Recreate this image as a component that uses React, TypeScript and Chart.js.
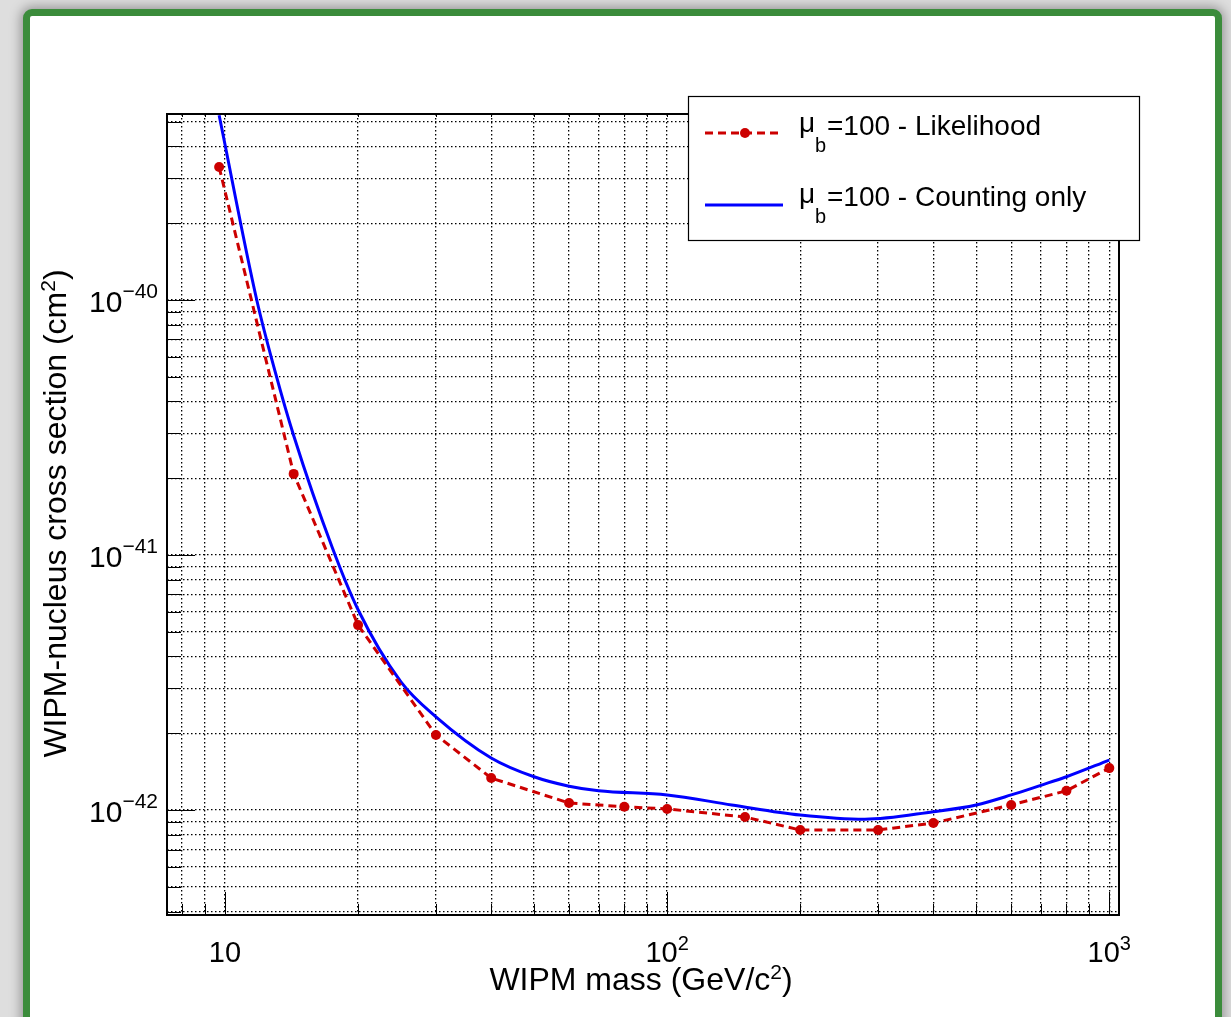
import React, { useEffect, useRef } from 'react';
import { Chart, registerables } from 'chart.js';

Chart.register(...registerables);

// ---- data ----
const likelihoodMass = [9.7, 14.3, 20, 30, 40, 60, 80, 100, 150, 200, 300, 400, 600, 800, 1000];
const likelihoodSigma = [
  3.32e-40, 2.08e-41, 5.31e-42, 1.97e-42, 1.335e-42, 1.065e-42, 1.03e-42, 1.01e-42,
  9.39e-43, 8.35e-43, 8.35e-43, 8.89e-43, 1.047e-42, 1.19e-42, 1.46e-42,
];
const countingMass = [9.7, 11.8, 13, 14.3, 17.5, 20, 25, 30, 40, 50, 60, 70, 100, 140, 200, 280, 400, 500, 600, 700, 800, 1000];
const countingSigma = [
  5.3e-40, 1.0e-40, 5.2e-41, 2.94e-41, 1.065e-41, 6.1e-42, 3.18e-42, 2.32e-42, 1.6e-42,
  1.35e-42, 1.24e-42, 1.19e-42, 1.146e-42, 1.047e-42, 9.56e-43, 9.2e-43, 9.85e-43,
  1.047e-42, 1.146e-42, 1.25e-42, 1.35e-42, 1.57e-42,
];

const seriesLabels = ['=100 - Likelihood', '=100 - Counting only'];
const seriesPrefix = 'μ';
const seriesSub = 'b';

// axis ranges
const xMin = 7.394;
const xMax = 1051.8;
const yMin = 3.876e-43;
const yMax = 5.36e-40;

// tick labels
const xLabelValues = [10, 100, 1000];
const xLabelBase = ['10', '10', '10'];
const xLabelExp = ['', '2', '3'];
const yLabelValues = [1e-42, 1e-41, 1e-40];
const yLabelBase = ['10', '10', '10'];
const yLabelExp = ['−42', '−41', '−40'];

const xTitleParts = ['WIPM mass (GeV/c', '2', ')'];
const yTitleParts = ['WIPM-nucleus cross section (cm', '2', ')'];

const FONT = '"Liberation Sans", Arial, Helvetica, sans-serif';
const RED = '#cc0000';
const BLUE = '#0000ff';
const RED_DASH = [8, 5];

function logGrid(min: number, max: number): number[] {
  const out: number[] = [];
  const lo = Math.floor(Math.log10(min));
  const hi = Math.ceil(Math.log10(max));
  for (let e = lo; e <= hi; e++) {
    for (let n = 1; n <= 9; n++) {
      const v = parseFloat((n * Math.pow(10, e)).toPrecision(6));
      if (v >= min && v <= max) out.push(v);
    }
  }
  return out;
}
const xGrid = logGrid(xMin, xMax);
const yGrid = logGrid(yMin, yMax);
const isDecade = (v: number) => {
  const l = Math.log10(v);
  return Math.abs(l - Math.round(l)) < 1e-6;
};

const rootStyle = {
  id: 'rootStyle',
  afterDraw(chart: any) {
    const ctx: CanvasRenderingContext2D = chart.ctx;
    const { left, right, top, bottom } = chart.chartArea;
    const xs = chart.scales.x;
    const ys = chart.scales.y;
    ctx.save();

    // ticks (inward, ROOT style)
    ctx.strokeStyle = '#000';
    ctx.lineWidth = 1;
    ctx.setLineDash([]);
    ctx.beginPath();
    for (const v of xGrid) {
      const px = Math.round(xs.getPixelForValue(v)) + 0.5;
      const len = isDecade(v) ? 23 : 11;
      ctx.moveTo(px, bottom);
      ctx.lineTo(px, bottom - len);
      ctx.moveTo(px, top);
      ctx.lineTo(px, top + 3);
    }
    for (const v of yGrid) {
      const py = Math.round(ys.getPixelForValue(v)) + 0.5;
      const len = isDecade(v) ? 28 : 14;
      ctx.moveTo(left, py);
      ctx.lineTo(left + len, py);
    }
    ctx.stroke();

    // frame
    ctx.lineWidth = 2;
    ctx.strokeRect(left, top, right - left, bottom - top);

    // x tick labels
    ctx.fillStyle = '#000';
    ctx.textBaseline = 'alphabetic';
    ctx.textAlign = 'left';
    xLabelValues.forEach((v, i) => {
      const px = xs.getPixelForValue(v);
      ctx.font = `29px ${FONT}`;
      const wb = ctx.measureText(xLabelBase[i]).width;
      ctx.font = `20px ${FONT}`;
      const we = xLabelExp[i] ? ctx.measureText(xLabelExp[i]).width : 0;
      const x0 = px - (wb + we) / 2;
      ctx.font = `29px ${FONT}`;
      ctx.fillText(xLabelBase[i], x0, 962);
      if (xLabelExp[i]) {
        ctx.font = `20px ${FONT}`;
        ctx.fillText(xLabelExp[i], x0 + wb, 950);
      }
    });

    // y tick labels
    yLabelValues.forEach((v, i) => {
      const py = ys.getPixelForValue(v);
      ctx.font = `30px ${FONT}`;
      const wb = ctx.measureText(yLabelBase[i]).width;
      ctx.font = `21px ${FONT}`;
      const we = ctx.measureText(yLabelExp[i]).width;
      const x0 = 158 - we - wb;
      ctx.font = `30px ${FONT}`;
      ctx.fillText(yLabelBase[i], x0, py + 12);
      ctx.font = `21px ${FONT}`;
      ctx.fillText(yLabelExp[i], x0 + wb, py - 2);
    });

    // axis titles
    const drawTitle = (parts: string[], cx: number, base: number) => {
      ctx.font = `32px ${FONT}`;
      const w0 = ctx.measureText(parts[0]).width;
      const w2 = ctx.measureText(parts[2]).width;
      ctx.font = `21px ${FONT}`;
      const w1 = ctx.measureText(parts[1]).width;
      let x = cx - (w0 + w1 + w2) / 2;
      ctx.font = `32px ${FONT}`;
      ctx.fillText(parts[0], x, base);
      x += w0;
      ctx.font = `21px ${FONT}`;
      ctx.fillText(parts[1], x, base - 11);
      x += w1;
      ctx.font = `32px ${FONT}`;
      ctx.fillText(parts[2], x, base);
    };
    drawTitle(xTitleParts, (left + right) / 2 - 2, 990);
    ctx.save();
    ctx.translate(66, (top + bottom) / 2 - 1);
    ctx.rotate(-Math.PI / 2);
    drawTitle(yTitleParts, 0, 0);
    ctx.restore();

    // legend
    const lx = 688.5, ly = 96.5, lw = 451, lh = 144;
    ctx.fillStyle = '#fff';
    ctx.fillRect(lx, ly, lw, lh);
    ctx.strokeStyle = '#000';
    ctx.lineWidth = 1.2;
    ctx.strokeRect(lx, ly, lw, lh);

    const rows = [
      { y: 133, base: 135, color: RED, dash: RED_DASH, dot: true },
      { y: 205, base: 206, color: BLUE, dash: [] as number[], dot: false },
    ];
    rows.forEach((r, i) => {
      ctx.strokeStyle = r.color;
      ctx.lineWidth = 3;
      ctx.setLineDash(r.dash);
      ctx.beginPath();
      ctx.moveTo(705, r.y);
      ctx.lineTo(783, r.y);
      ctx.stroke();
      ctx.setLineDash([]);
      if (r.dot) {
        ctx.fillStyle = r.color;
        ctx.beginPath();
        ctx.arc(745, r.y, 5, 0, Math.PI * 2);
        ctx.fill();
      }
      ctx.fillStyle = '#000';
      ctx.font = `28px ${FONT}`;
      ctx.fillText(seriesPrefix, 799, r.base - 3);
      ctx.font = `20px ${FONT}`;
      ctx.fillText(seriesSub, 815, r.base + 17);
      ctx.font = `28px ${FONT}`;
      ctx.fillText(seriesLabels[i], 827, r.base);
    });

    ctx.restore();
  },
};

export default function App() {
  const canvasRef = useRef<HTMLCanvasElement | null>(null);

  useEffect(() => {
    const canvas = canvasRef.current;
    if (!canvas) return;
    const chart = new Chart(canvas, {
      type: 'line',
      data: {
        datasets: [
          {
            label: seriesPrefix + seriesSub + seriesLabels[0],
            data: likelihoodMass.map((m, i) => ({ x: m, y: likelihoodSigma[i] })),
            borderColor: RED,
            backgroundColor: RED,
            borderWidth: 3,
            borderDash: RED_DASH,
            pointRadius: 5,
            pointBorderWidth: 0,
            pointBackgroundColor: RED,
            tension: 0,
            fill: false,
            order: 1,
          },
          {
            label: seriesPrefix + seriesSub + seriesLabels[1],
            data: countingMass.map((m, i) => ({ x: m, y: countingSigma[i] })),
            borderColor: BLUE,
            backgroundColor: BLUE,
            borderWidth: 3,
            pointRadius: 0,
            cubicInterpolationMode: 'monotone',
            fill: false,
            order: 2,
          },
        ],
      },
      options: {
        responsive: false,
        animation: false,
        devicePixelRatio: 1,
        events: [],
        layout: { padding: { left: 0, top: 114, right: 112, bottom: 0 } },
        plugins: { legend: { display: false }, tooltip: { enabled: false } },
        scales: {
          x: {
            type: 'logarithmic',
            min: xMin,
            max: xMax,
            bounds: 'data',
            afterBuildTicks: (scale: any) => {
              scale.ticks = xGrid.map((v) => ({ value: v }));
            },
            afterFit: (scale: any) => {
              scale.height = 102;
            },
            ticks: { display: false },
            border: { display: false, dash: [1.5, 2.5] },
            grid: { color: '#000', lineWidth: 1.3, drawTicks: false },
          },
          y: {
            type: 'logarithmic',
            min: yMin,
            max: yMax,
            bounds: 'data',
            afterBuildTicks: (scale: any) => {
              scale.ticks = yGrid.map((v) => ({ value: v }));
            },
            afterFit: (scale: any) => {
              scale.width = 167;
            },
            ticks: { display: false },
            border: { display: false, dash: [1.5, 2.5] },
            grid: { color: '#000', lineWidth: 1.3, drawTicks: false },
          },
        },
      } as any,
      plugins: [rootStyle],
    });
    return () => chart.destroy();
  }, []);

  return (
    <div
      style={{
        position: 'fixed',
        left: 0,
        top: 0,
        width: 1231,
        height: 1017,
        overflow: 'hidden',
        background: '#dedede',
      }}
    >
      <div
        style={{
          position: 'absolute',
          left: 23,
          top: 9,
          width: 1199,
          height: 1030,
          boxSizing: 'border-box',
          border: '7px solid #3b8c3b',
          borderRadius: 9,
          background: '#fff',
          boxShadow: '0 0 12px 2px rgba(0,0,0,0.35)',
        }}
      />
      <canvas
        ref={canvasRef}
        width={1231}
        height={1017}
        style={{ position: 'absolute', left: 0, top: 0, width: 1231, height: 1017 }}
      />
    </div>
  );
}
